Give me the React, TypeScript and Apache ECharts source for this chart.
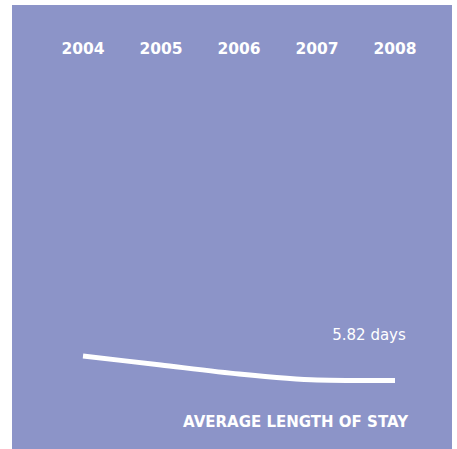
import React, { useEffect, useRef } from "react";
import * as echarts from "echarts";

const years = ["2004", "2005", "2006", "2007", "2008"];
const avgStayDays = [6.065, 5.975, 5.885, 5.825, 5.82];
const chartTitle = "AVERAGE LENGTH OF STAY";
const unit = "days";

export default function App() {
  const ref = useRef<HTMLDivElement>(null);
  useEffect(() => {
    if (!ref.current) return;
    const chart = echarts.init(ref.current, undefined, { renderer: "svg" });
    const last = avgStayDays.length - 1;
    chart.setOption({
      animation: false,
      backgroundColor: "#ffffff",
      graphic: [
        {
          type: "rect",
          z: -10,
          shape: { x: 12, y: 5, width: 440, height: 444 },
          style: { fill: "#8c94c8" },
          silent: true,
        },
        {
          type: "text",
          x: 408,
          y: 422,
          style: {
            text: chartTitle,
            fill: "#ffffff",
            font: "bold 15px 'DejaVu Sans'",
            textAlign: "right",
            textVerticalAlign: "middle",
          },
        },
      ],
      grid: { left: 83, right: 62, top: 60, bottom: 36.5 },
      xAxis: {
        type: "category",
        data: years,
        position: "top",
        boundaryGap: false,
        axisLine: { show: false },
        axisTick: { show: false },
        splitLine: { show: false },
        axisLabel: {
          color: "#ffffff",
          fontFamily: "DejaVu Sans",
          fontWeight: "bold",
          fontSize: 15.5,
          margin: 3,
        },
      },
      yAxis: {
        type: "value",
        min: 5.5,
        max: 9.025,
        show: false,
        splitLine: { show: false },
      },
      series: [
        {
          type: "line",
          smooth: 0.25,
          showSymbol: false,
          symbol: "none",
          lineStyle: { color: "#ffffff", width: 5, cap: "butt" },
          endLabel: {
            show: true,
            distance: 0,
            align: "center",
            verticalAlign: "middle",
            offset: [-26, -45.5],
            formatter: () => `${avgStayDays[last].toFixed(2)} ${unit}`,
            color: "#ffffff",
            fontFamily: "DejaVu Sans",
            fontSize: 15,
          },
          data: avgStayDays,
        },
      ],
    });
    return () => chart.dispose();
  }, []);
  return (
    <div
      ref={ref}
      style={{ position: "fixed", left: 0, top: 0, width: 457, height: 449 }}
    />
  );
}
